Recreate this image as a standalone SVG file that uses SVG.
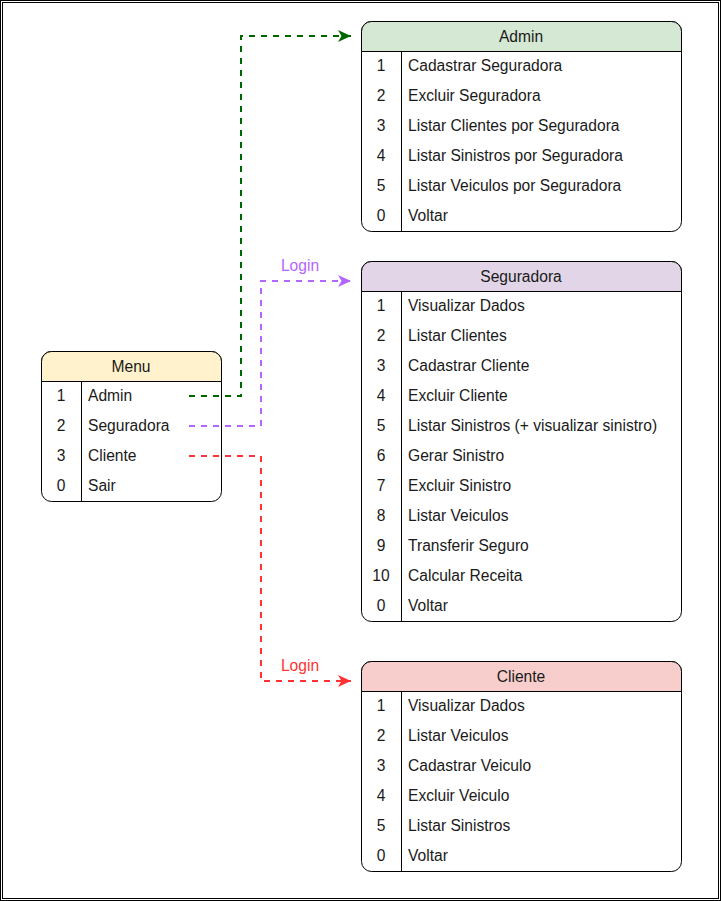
<svg xmlns="http://www.w3.org/2000/svg" width="721" height="901" viewBox="0 0 721 901">
<style>
.box{fill:#ffffff;stroke:#000000;stroke-width:1}
.div{stroke:#000000;stroke-width:1;fill:none}
.t{font-family:"Liberation Sans",Arial,sans-serif;font-size:15.6px;fill:#1a1a1a}
.c{text-anchor:middle}
.con{fill:none;stroke-width:2;stroke-dasharray:6 6}
</style>
<defs>
<marker id="ag" markerUnits="userSpaceOnUse" markerWidth="16" markerHeight="14" refX="13" refY="7" orient="auto"><path d="M0,1 L13,7 L0,13 L3.5,7 Z" fill="#006600"/></marker>
<marker id="ap" markerUnits="userSpaceOnUse" markerWidth="16" markerHeight="14" refX="13" refY="7" orient="auto"><path d="M0,1 L13,7 L0,13 L3.5,7 Z" fill="#B266FF"/></marker>
<marker id="ar" markerUnits="userSpaceOnUse" markerWidth="16" markerHeight="14" refX="13" refY="7" orient="auto"><path d="M0,1 L13,7 L0,13 L3.5,7 Z" fill="#FF3333"/></marker>
</defs>
<rect x="0.5" y="0.5" width="720" height="900" fill="#ffffff" stroke="#000" stroke-width="1"/>
<rect x="2.5" y="2.5" width="716" height="896" fill="none" stroke="#000" stroke-width="1"/>

<g id="menu">
<rect class="box" x="41.5" y="351.5" width="180" height="150" rx="10"/>
<path d="M41.5,381.5 V361.5 A10,10 0 0 1 51.5,351.5 H211.5 A10,10 0 0 1 221.5,361.5 V381.5 Z" fill="#fff2cc" stroke="#000"/>
<path class="div" d="M81.5,381.5 V501.5"/>
<text class="t c" x="131" y="372">Menu</text>
<text class="t c" x="61" y="401">1</text><text class="t" x="88" y="401">Admin</text>
<text class="t c" x="61" y="431">2</text><text class="t" x="88" y="431">Seguradora</text>
<text class="t c" x="61" y="461">3</text><text class="t" x="88" y="461">Cliente</text>
<text class="t c" x="61" y="491">0</text><text class="t" x="88" y="491">Sair</text>
</g>

<g id="admin">
<rect class="box" x="361.5" y="21.5" width="320" height="210" rx="10"/>
<path d="M361.5,51.5 V31.5 A10,10 0 0 1 371.5,21.5 H671.5 A10,10 0 0 1 681.5,31.5 V51.5 Z" fill="#d5e8d4" stroke="#000"/>
<path class="div" d="M401.5,51.5 V231.5"/>
<text class="t c" x="521" y="42">Admin</text>
<text class="t c" x="381" y="71">1</text><text class="t" x="408" y="71">Cadastrar Seguradora</text>
<text class="t c" x="381" y="101">2</text><text class="t" x="408" y="101">Excluir Seguradora</text>
<text class="t c" x="381" y="131">3</text><text class="t" x="408" y="131">Listar Clientes por Seguradora</text>
<text class="t c" x="381" y="161">4</text><text class="t" x="408" y="161">Listar Sinistros por Seguradora</text>
<text class="t c" x="381" y="191">5</text><text class="t" x="408" y="191">Listar Veiculos por Seguradora</text>
<text class="t c" x="381" y="221">0</text><text class="t" x="408" y="221">Voltar</text>
</g>

<g id="seguradora">
<rect class="box" x="361.5" y="261.5" width="320" height="360" rx="10"/>
<path d="M361.5,291.5 V271.5 A10,10 0 0 1 371.5,261.5 H671.5 A10,10 0 0 1 681.5,271.5 V291.5 Z" fill="#e1d5e7" stroke="#000"/>
<path class="div" d="M401.5,291.5 V621.5"/>
<text class="t c" x="521" y="282">Seguradora</text>
<text class="t c" x="381" y="311">1</text><text class="t" x="408" y="311">Visualizar Dados</text>
<text class="t c" x="381" y="341">2</text><text class="t" x="408" y="341">Listar Clientes</text>
<text class="t c" x="381" y="371">3</text><text class="t" x="408" y="371">Cadastrar Cliente</text>
<text class="t c" x="381" y="401">4</text><text class="t" x="408" y="401">Excluir Cliente</text>
<text class="t c" x="381" y="431">5</text><text class="t" x="408" y="431">Listar Sinistros (+ visualizar sinistro)</text>
<text class="t c" x="381" y="461">6</text><text class="t" x="408" y="461">Gerar Sinistro</text>
<text class="t c" x="381" y="491">7</text><text class="t" x="408" y="491">Excluir Sinistro</text>
<text class="t c" x="381" y="521">8</text><text class="t" x="408" y="521">Listar Veiculos</text>
<text class="t c" x="381" y="551">9</text><text class="t" x="408" y="551">Transferir Seguro</text>
<text class="t c" x="381" y="581">10</text><text class="t" x="408" y="581">Calcular Receita</text>
<text class="t c" x="381" y="611">0</text><text class="t" x="408" y="611">Voltar</text>
</g>

<g id="cliente">
<rect class="box" x="361.5" y="661.5" width="320" height="210" rx="10"/>
<path d="M361.5,691.5 V671.5 A10,10 0 0 1 371.5,661.5 H671.5 A10,10 0 0 1 681.5,671.5 V691.5 Z" fill="#f8cecc" stroke="#000"/>
<path class="div" d="M401.5,691.5 V871.5"/>
<text class="t c" x="521" y="682">Cliente</text>
<text class="t c" x="381" y="711">1</text><text class="t" x="408" y="711">Visualizar Dados</text>
<text class="t c" x="381" y="741">2</text><text class="t" x="408" y="741">Listar Veiculos</text>
<text class="t c" x="381" y="771">3</text><text class="t" x="408" y="771">Cadastrar Veiculo</text>
<text class="t c" x="381" y="801">4</text><text class="t" x="408" y="801">Excluir Veiculo</text>
<text class="t c" x="381" y="831">5</text><text class="t" x="408" y="831">Listar Sinistros</text>
<text class="t c" x="381" y="861">0</text><text class="t" x="408" y="861">Voltar</text>
</g>

<g id="connectors">
<path class="con" stroke="#006600" d="M189,396 H241 V36 H351" marker-end="url(#ag)"/>
<path class="con" stroke="#B266FF" d="M189,426 H261 V281 H351" marker-end="url(#ap)"/>
<path class="con" stroke="#FF3333" d="M189,456 H261 V681 H351" marker-end="url(#ar)"/>
<text class="t c" x="300" y="271" style="fill:#B266FF">Login</text>
<text class="t c" x="300" y="671" style="fill:#FF3333">Login</text>
</g>
</svg>
